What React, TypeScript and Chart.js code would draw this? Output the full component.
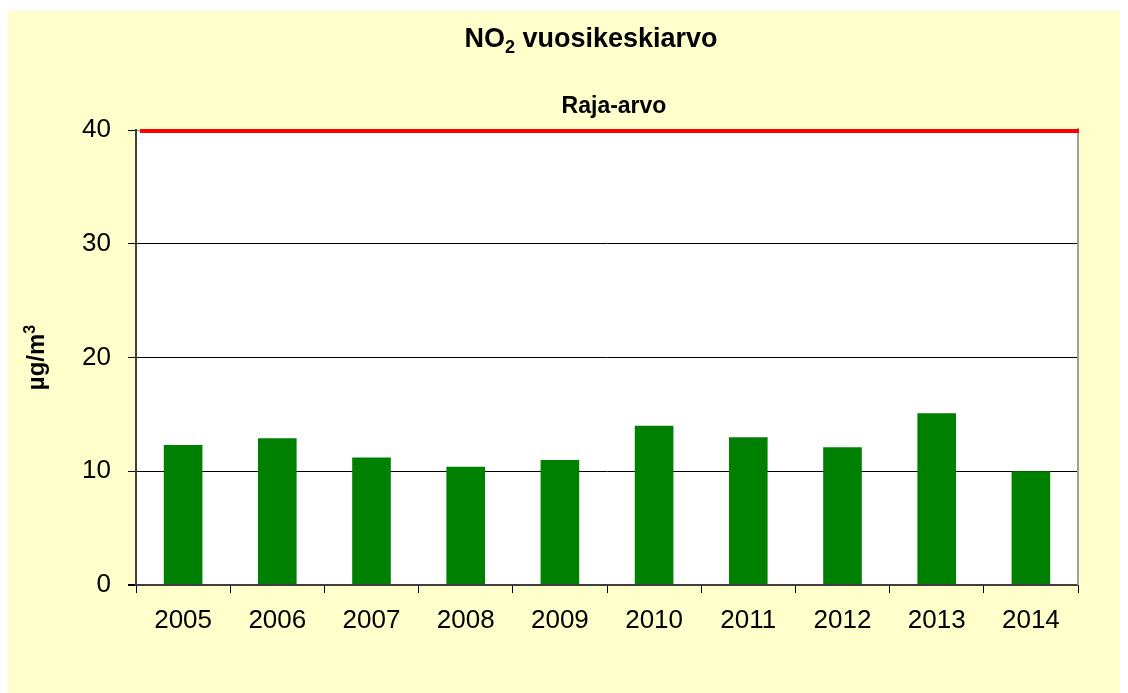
import React, { useEffect, useRef } from "react";
import { Chart, registerables } from "chart.js";

Chart.register(...registerables);

const years = ["2005", "2006", "2007", "2008", "2009", "2010", "2011", "2012", "2013", "2014"];
const no2Values = [12.3, 12.9, 11.2, 10.4, 11.0, 14.0, 13.0, 12.1, 15.1, 10.0];
const limitValue = 40;
const yTicks = [0, 10, 20, 30, 40];
// title "NO2 vuosikeskiarvo" with subscript 2
const titleParts = [
  { text: "NO", kind: "normal" },
  { text: "2", kind: "sub" },
  { text: " vuosikeskiarvo", kind: "normal" },
];
const limitLabel = "Raja-arvo";
// axis title "µg/m3" with superscript 3
const yTitleParts = [
  { text: "µg/m", kind: "normal" },
  { text: "3", kind: "sup" },
];

const FONT = "'Liberation Sans', Arial, Helvetica, sans-serif";

function drawRich(ctx: any, parts: { text: string; kind: string }[], cx: number, baseY: number, size: number) {
  const small = Math.round(size * 0.66);
  const fontFor = (k: string) => `bold ${k === "normal" ? size : small}px ${FONT}`;
  let total = 0;
  for (const p of parts) {
    ctx.font = fontFor(p.kind);
    total += ctx.measureText(p.text).width;
  }
  let x = cx - total / 2;
  ctx.textAlign = "left";
  ctx.textBaseline = "alphabetic";
  for (const p of parts) {
    ctx.font = fontFor(p.kind);
    const dy = p.kind === "sub" ? size * 0.22 : p.kind === "sup" ? -size * 0.38 : 0;
    ctx.fillText(p.text, x, baseY + dy);
    x += ctx.measureText(p.text).width;
  }
}

export default function App() {
  const ref = useRef<HTMLCanvasElement | null>(null);

  useEffect(() => {
    if (!ref.current) return;
    const decor = {
      id: "decor",
      beforeDraw(chart: any) {
        const { ctx, chartArea: a, width, height } = chart;
        ctx.save();
        ctx.fillStyle = "#FFFFCC";
        ctx.fillRect(0, 0, width, height);
        ctx.fillStyle = "#FFFFFF";
        ctx.fillRect(a.left, a.top, a.right - a.left, a.bottom - a.top);
        ctx.restore();
      },
      afterDatasetsDraw(chart: any) {
        const { ctx, chartArea: a, scales } = chart;
        const y = scales.y.getPixelForValue(limitValue);
        ctx.save();
        ctx.strokeStyle = "#A0A0A0";
        ctx.lineWidth = 2;
        ctx.beginPath();
        ctx.moveTo(a.right, a.top - 2);
        ctx.lineTo(a.right, a.bottom);
        ctx.stroke();
        ctx.strokeStyle = "#FF0000";
        ctx.lineWidth = 4;
        ctx.beginPath();
        ctx.moveTo(a.left + 4, y + 1);
        ctx.lineTo(a.right + 1, y + 1);
        ctx.stroke();
        ctx.restore();
      },
      afterDraw(chart: any) {
        const { ctx, chartArea: a, scales } = chart;
        ctx.save();
        ctx.fillStyle = "#000";
        drawRich(ctx, titleParts, 583, 36, 27);
        ctx.font = `bold 23px ${FONT}`;
        ctx.textAlign = "center";
        ctx.textBaseline = "alphabetic";
        const ly = scales.y.getPixelForValue(limitValue);
        ctx.fillText(limitLabel, (a.left + a.right) / 2 + 7, ly - 17);
        ctx.translate(36, (a.top + a.bottom) / 2);
        ctx.rotate(-Math.PI / 2);
        drawRich(ctx, yTitleParts, 0, 0, 24);
        ctx.restore();
      },
    };

    const chart = new Chart(ref.current, {
      type: "bar",
      data: {
        labels: years,
        datasets: [
          {
            data: no2Values,
            backgroundColor: "#008000",
            borderWidth: 0,
            categoryPercentage: 1,
            barPercentage: 0.41,
          },
        ],
      },
      options: {
        animation: false,
        responsive: false,
        devicePixelRatio: 1,
        layout: { padding: { top: 119, left: 0, right: 42, bottom: 48 } },
        plugins: {
          legend: { display: false },
          title: { display: false },
          tooltip: { enabled: false },
        },
        scales: {
          x: {
            offset: true,
            grid: {
              offset: true,
              drawOnChartArea: false,
              drawTicks: true,
              tickLength: 8,
              color: "#000",
              tickColor: "#000",
            },
            border: { display: true, color: "#404040", width: 2 },
            ticks: {
              color: "#000",
              font: { family: FONT, size: 26 },
              padding: 12,
              maxRotation: 0,
            },
            afterFit(s: any) {
              s.height = 60;
            },
          },
          y: {
            min: 0,
            max: 40,
            afterBuildTicks(s: any) {
              s.ticks = yTicks.map((v) => ({ value: v }));
            },
            grid: {
              drawTicks: true,
              tickLength: 8,
              color: (c: any) =>
                c.tick && c.tick.value === 40 ? "#909090" : c.tick && c.tick.value === 0 ? "#404040" : "#000",
              lineWidth: (c: any) => (c.tick && c.tick.value === 0 ? 2 : 1),
              tickColor: "#000",
            },
            border: { display: true, color: "#404040", width: 2 },
            ticks: {
              color: "#000",
              font: { family: FONT, size: 26 },
              padding: 17,
            },
            afterFit(s: any) {
              s.width = 128;
            },
          },
        },
      },
      plugins: [decor],
    });
    return () => chart.destroy();
  }, []);

  return (
    <div style={{ paddingTop: 3 }}>
      <canvas ref={ref} width={1112} height={682} style={{ display: "block", width: 1112, height: 682 }} />
    </div>
  );
}
